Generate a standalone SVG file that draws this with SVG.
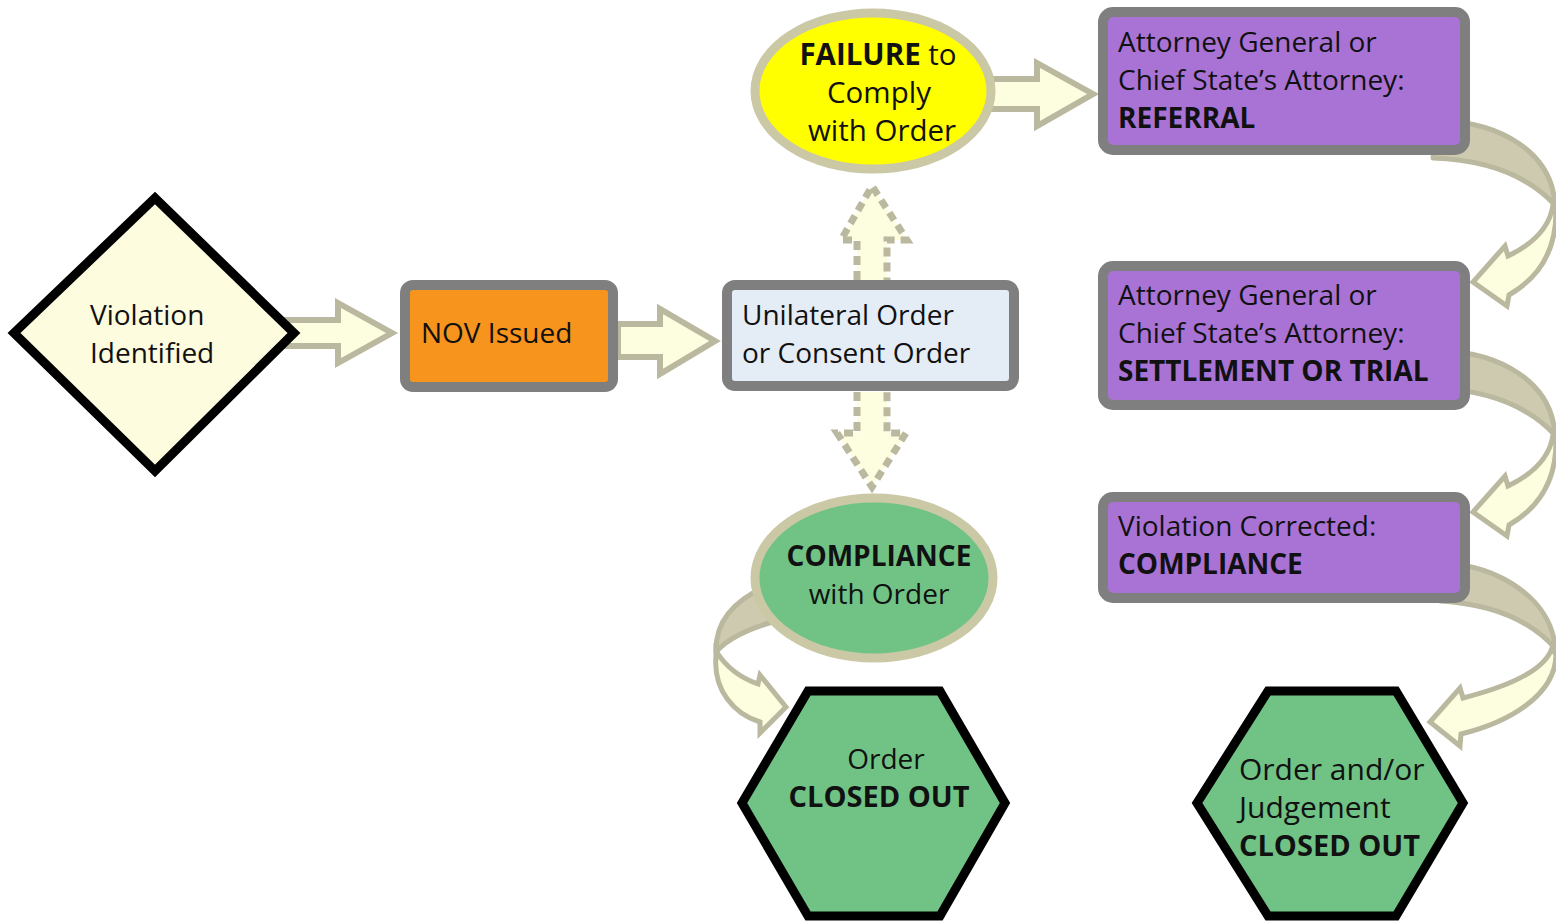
<svg xmlns="http://www.w3.org/2000/svg" width="1556" height="922" viewBox="0 0 1556 922">
<style>
  text { font-family: "Open Sans", "DejaVu Sans", sans-serif; font-size: 28px; fill: #111; }
  .b { font-weight: bold; }
  .mid { text-anchor: middle; }
  .big { font-size: 29.5px; }
  .hx { font-size: 30px; }
  .co { font-size: 29px; }
  .arrow { fill: #fdfde0; stroke: #bab89e; stroke-width: 6; stroke-linejoin: miter; }
  .dash { fill: #fdfde0; stroke: #bab89e; stroke-width: 7; stroke-dasharray: 9 6; }
  .band { fill: #cdcab0; stroke: #bab89e; stroke-width: 5; stroke-linejoin: round; }
  .curl { fill: #fdfde0; stroke: #bab89e; stroke-width: 5; stroke-linejoin: miter; }
  .box { stroke: #7f7f7f; stroke-width: 10; }
  .term { stroke: #000; stroke-width: 9; stroke-linejoin: miter; }
  .oval { stroke: #cbc8a6; stroke-width: 9; }
</style>
<rect width="1556" height="922" fill="#ffffff"/>
<g id="connectors">
  <path class="arrow" d="M285,320 L338,320 L338,303 L392,333 L338,363 L338,346 L285,346 Z"/>
  <path class="arrow" d="M618,324 L660,324 L660,309 L715,341 L660,374 L660,357 L618,357 Z"/>
  <path class="arrow" d="M990,79 L1037,79 L1037,63 L1093,94 L1037,126 L1037,109 L990,109 Z"/>
  <path class="dash" d="M857,280 L857,240 L841,240 L872,186 L907,240 L887,240 L887,280"/>
  <path class="dash" d="M857,392 L857,433 L837,433 L872,487 L906,433 L887,433 L887,392"/>
  <path class="band" d="M1440,121 C1500,122 1552,152 1555,205 C1530,178 1490,160 1433,158 Z"/>
  <path class="curl" d="M1553,205 C1550,226 1535,243 1508,256 L1505,246 L1473,282 L1507,306 L1509,295 C1535,280 1556,255 1556,212 Z"/>
  <path class="band" d="M1440,351 C1500,352 1552,382 1555,435 C1530,408 1490,390 1433,388 Z"/>
  <path class="curl" d="M1553,435 C1550,456 1535,473 1508,486 L1505,476 L1473,512 L1507,536 L1509,525 C1535,510 1556,485 1556,442 Z"/>
  <path class="band" d="M1440,563 C1500,565 1552,600 1555,648 C1530,620 1490,604 1440,601 Z"/>
  <path class="curl" d="M1552,648 C1545,670 1510,686 1463,698 L1460,688 L1430,722 L1460,746 L1461,734 C1510,722 1555,695 1556,655 Z"/>
  <path class="band" d="M775,583 C742,595 715,615 716,652 C726,640 748,628 780,620 Z"/>
  <path class="curl" d="M716,651 C724,664 738,677 758,684 L760,675 L786,707 L760,733 L760,722 C734,714 713,690 716,656 Z"/>
</g>
<g id="violation">
  <polygon points="155,198 294,333 155,471 14,333" fill="#fdfcdf" class="term"/>
  <text x="90" y="325">Violation</text>
  <text x="90" y="363">Identified</text>
</g>
<g id="nov">
  <rect x="405" y="285" width="208" height="102" rx="8" fill="#f7941d" class="box"/>
  <text x="421" y="343">NOV Issued</text>
</g>
<g id="order">
  <rect x="727" y="285" width="287" height="101" rx="8" fill="#e4ecf6" class="box"/>
  <text x="742" y="325">Unilateral Order</text>
  <text x="742" y="363">or Consent Order</text>
</g>
<g id="failure">
  <ellipse cx="873" cy="91" rx="118" ry="78" fill="#ffff00" class="oval"/>
  <text x="878" y="65" class="mid big"><tspan class="b">FAILURE</tspan> to</text>
  <text x="879" y="103" class="mid big">Comply</text>
  <text x="882" y="141" class="mid big">with Order</text>
</g>
<g id="referral">
  <rect x="1103" y="12" width="362" height="138" rx="10" fill="#a973d6" class="box"/>
  <text x="1118" y="52">Attorney General or</text>
  <text x="1118" y="90">Chief State’s Attorney:</text>
  <text x="1118" y="128" class="b">REFERRAL</text>
</g>
<g id="settlement">
  <rect x="1103" y="266" width="362" height="139" rx="10" fill="#a973d6" class="box"/>
  <text x="1118" y="305">Attorney General or</text>
  <text x="1118" y="343">Chief State’s Attorney:</text>
  <text x="1118" y="381" class="b">SETTLEMENT OR TRIAL</text>
</g>
<g id="corrected">
  <rect x="1103" y="497" width="362" height="101" rx="10" fill="#a973d6" class="box"/>
  <text x="1118" y="536">Violation Corrected:</text>
  <text x="1118" y="574" class="b">COMPLIANCE</text>
</g>
<g id="compliance">
  <ellipse cx="874" cy="578" rx="119" ry="80" fill="#70c385" class="oval"/>
  <text x="879" y="566" class="mid b">COMPLIANCE</text>
  <text x="879" y="604" class="mid">with Order</text>
</g>
<g id="closed1">
  <polygon points="808,691 940,691 1005,803 940,916 808,916 742,803" fill="#70c385" class="term"/>
  <text x="886" y="769" class="mid">Order</text>
  <text x="879" y="807" class="mid b co">CLOSED OUT</text>
</g>
<g id="closed2">
  <polygon points="1268,691 1396,691 1463,803 1396,916 1268,916 1197,803" fill="#70c385" class="term"/>
  <text x="1239" y="780" class="hx">Order and/or</text>
  <text x="1239" y="818" class="hx">Judgement</text>
  <text x="1239" y="856" class="b co">CLOSED OUT</text>
</g>
</svg>
